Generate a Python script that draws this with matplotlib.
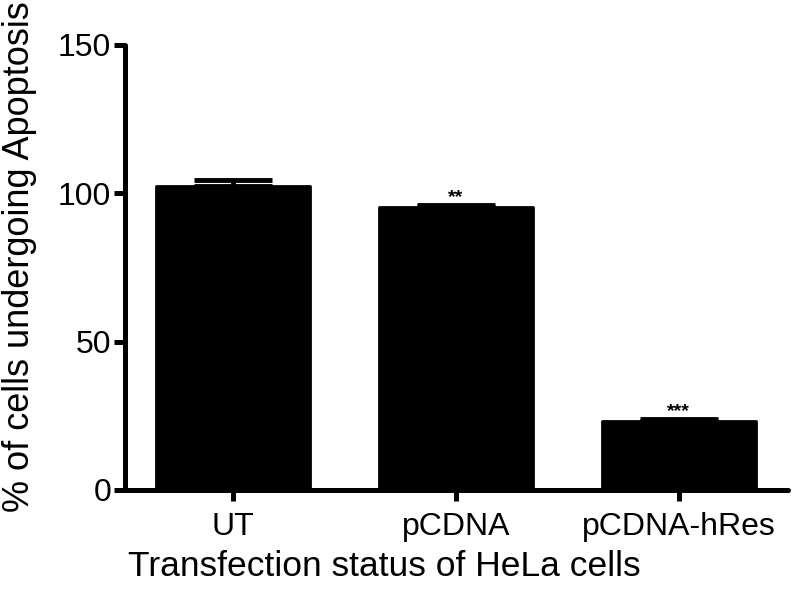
import numpy as np
import matplotlib.pyplot as plt

plt.rcParams['font.family'] = ['Liberation Sans', 'DejaVu Sans']

# data
groups = ['UT', 'pCDNA', 'pCDNA-hRes']
means = [102.6, 95.4, 23.3]
errs = [1.8, 0.6, 0.5]
stars = ['', '**', '***']
yticks = [0, 50, 100, 150]

fig = plt.figure(figsize=(7.92, 5.96), dpi=100)
ax = fig.add_axes([0.1578, 0.1779, 0.837, 0.7466])

x = np.arange(len(groups))
bars = ax.bar(x, means, width=0.69, color='black', edgecolor='black', linewidth=2)
for b in bars:
    b.set_joinstyle('round')
ax.errorbar(x, means, yerr=[np.zeros(len(errs)), errs], fmt='none',
            ecolor='black', elinewidth=3.5, capsize=28, capthick=3.5)

# significance stars above the error caps
for xi, m, e, s in zip(x, means, errs, stars):
    if s:
        ax.text(xi, m + e + 1.2, s, ha='center', va='baseline',
                fontsize=14, fontweight='bold')

ax.set_xlim(-0.486, 2.49)
ax.set_ylim(0, 150)
ax.set_yticks(yticks)
ax.set_xticks(x)
ax.set_xticklabels(groups)

for side in ['top', 'right']:
    ax.spines[side].set_visible(False)
for side in ['left', 'bottom']:
    ax.spines[side].set_linewidth(3.6)
    ax.spines[side].set_capstyle('round')

ax.tick_params(axis='both', width=3.6, length=8, labelsize=23)
ax.tick_params(axis='x', pad=8)
ax.tick_params(axis='y', pad=2)

fig.text(0.485, 1 - 576 / 596, 'Transfection status of HeLa cells',
         ha='center', va='baseline', fontsize=25.5)
fig.text(0.024, 0.569, '% of cells undergoing Apoptosis', rotation=90,
         ha='center', va='center', fontsize=26)

fig.savefig('out.png', dpi=100)
